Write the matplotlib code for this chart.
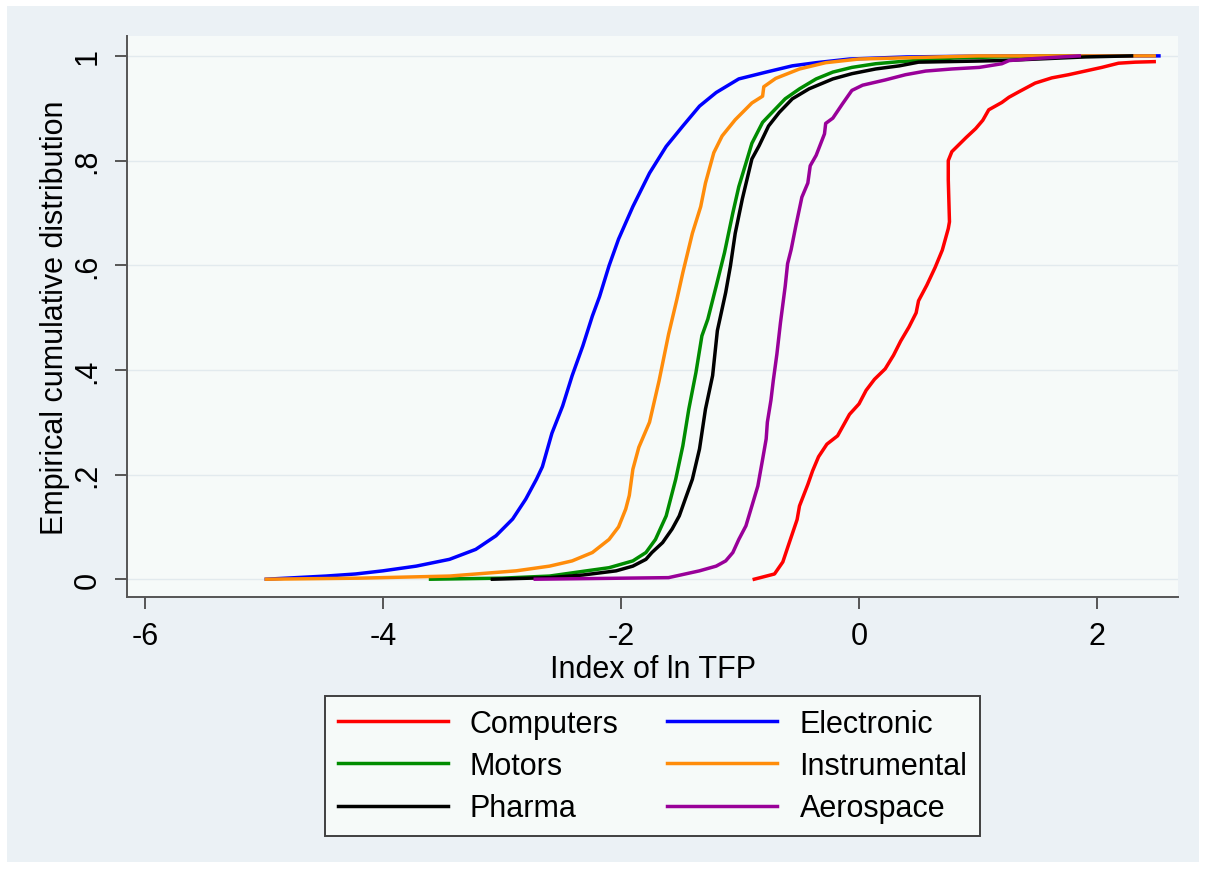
import matplotlib
matplotlib.use("Agg")
import matplotlib.pyplot as plt
from matplotlib.patches import Rectangle

plt.rcParams['font.family'] = ['Liberation Sans', 'DejaVu Sans']
plt.rcParams['axes.unicode_minus'] = False

# data: points along each empirical CDF
computers_x = [-0.88, -0.71, -0.64, -0.59, -0.52, -0.50, -0.43, -0.39, -0.34, -0.27, -0.18, -0.08, 0.00, 0.06,
               0.13, 0.22, 0.29, 0.35, 0.42, 0.48, 0.50, 0.57, 0.64, 0.70, 0.75, 0.76, 0.75, 0.75, 0.78, 0.90,
               0.98, 1.04, 1.09, 1.20, 1.26, 1.34, 1.48, 1.62, 1.76, 1.90, 2.04, 2.18, 2.32, 2.48]
computers_y = [0.0, 0.01, 0.033, 0.067, 0.114, 0.14, 0.181, 0.207, 0.234, 0.258, 0.274, 0.315, 0.335, 0.361,
               0.382, 0.402, 0.428, 0.455, 0.482, 0.509, 0.532, 0.562, 0.596, 0.629, 0.67, 0.683, 0.763, 0.80,
               0.817, 0.844, 0.861, 0.877, 0.897, 0.911, 0.921, 0.931, 0.948, 0.958, 0.964, 0.971, 0.978, 0.986,
               0.988, 0.989]

electronic_x = [-4.98, -4.48, -4.23, -4.00, -3.72, -3.44, -3.22, -3.05, -2.91, -2.80, -2.71, -2.66, -2.58,
                -2.49, -2.41, -2.32, -2.24, -2.18, -2.10, -2.02, -1.90, -1.76, -1.62, -1.48, -1.34, -1.20,
                -1.01, -0.78, -0.56, -0.36, -0.08, 0.40, 1.20, 2.52]
electronic_y = [0.0, 0.006, 0.01, 0.016, 0.025, 0.038, 0.057, 0.083, 0.115, 0.153, 0.191, 0.215, 0.279,
                0.331, 0.389, 0.446, 0.503, 0.54, 0.599, 0.65, 0.712, 0.776, 0.827, 0.866, 0.904, 0.93,
                0.956, 0.969, 0.981, 0.987, 0.994, 0.998, 1.0, 1.0]

motors_x = [-3.6, -3.0, -2.60, -2.32, -2.10, -1.90, -1.79, -1.71, -1.62, -1.54, -1.48, -1.43, -1.37, -1.32,
            -1.27, -1.20, -1.13, -1.06, -1.01, -0.95, -0.90, -0.81, -0.73, -0.62, -0.50, -0.36, -0.22, -0.06,
            0.14, 0.34, 0.8, 1.5, 1.8]
motors_y = [0.0, 0.002, 0.006, 0.015, 0.022, 0.035, 0.051, 0.076, 0.121, 0.191, 0.255, 0.325, 0.395, 0.465,
            0.497, 0.56, 0.624, 0.70, 0.75, 0.795, 0.833, 0.873, 0.892, 0.918, 0.937, 0.956, 0.969, 0.978,
            0.985, 0.989, 0.996, 1.0, 1.0]

instrumental_x = [-4.98, -4.2, -3.44, -2.88, -2.60, -2.41, -2.24, -2.10, -2.02, -1.96, -1.93, -1.90, -1.85,
                  -1.76, -1.68, -1.60, -1.53, -1.48, -1.40, -1.33, -1.29, -1.22, -1.15, -1.04, -0.90, -0.81,
                  -0.80, -0.70, -0.50, -0.28, 0.00, 0.34, 1.0, 2.48]
instrumental_y = [0.0, 0.002, 0.006, 0.016, 0.025, 0.035, 0.051, 0.076, 0.10, 0.134, 0.16, 0.21, 0.252,
                  0.30, 0.379, 0.468, 0.535, 0.586, 0.661, 0.712, 0.757, 0.815, 0.847, 0.878, 0.91, 0.923,
                  0.941, 0.957, 0.975, 0.987, 0.994, 0.996, 1.0, 1.0]

pharma_x = [-3.08, -2.60, -2.32, -2.04, -1.90, -1.79, -1.74, -1.65, -1.57, -1.51, -1.46, -1.40, -1.34, -1.29,
            -1.23, -1.19, -1.12, -1.08, -1.04, -0.98, -0.94, -0.90, -0.84, -0.76, -0.67, -0.56, -0.42, -0.22,
            -0.06, 0.14, 0.34, 0.50, 1.20, 1.90, 2.29]
pharma_y = [0.0, 0.003, 0.008, 0.016, 0.025, 0.038, 0.051, 0.07, 0.096, 0.121, 0.153, 0.191, 0.249, 0.325,
            0.389, 0.475, 0.548, 0.599, 0.661, 0.727, 0.765, 0.803, 0.828, 0.866, 0.892, 0.918, 0.937, 0.956,
            0.966, 0.975, 0.981, 0.988, 0.991, 0.998, 1.0]

aerospace_x = [-2.72, -1.60, -1.46, -1.34, -1.20, -1.12, -1.06, -1.01, -0.95, -0.90, -0.85, -0.81, -0.78,
               -0.77, -0.74, -0.72, -0.69, -0.66, -0.62, -0.60, -0.57, -0.53, -0.48, -0.43, -0.41, -0.36,
               -0.29, -0.28, -0.22, -0.14, -0.06, 0.03, 0.22, 0.39, 0.56, 0.78, 1.01, 1.20, 1.26, 1.48, 1.85]
aerospace_y = [0.0, 0.003, 0.01, 0.016, 0.025, 0.035, 0.051, 0.076, 0.102, 0.14, 0.178, 0.229, 0.268,
               0.30, 0.342, 0.38, 0.43, 0.49, 0.56, 0.603, 0.63, 0.676, 0.73, 0.757, 0.79, 0.81,
               0.851, 0.871, 0.881, 0.908, 0.934, 0.944, 0.954, 0.964, 0.971, 0.975, 0.978, 0.985, 0.991,
               0.995, 1.0]

x_ticks = [-6, -4, -2, 0, 2]
y_ticks = [0, 0.2, 0.4, 0.6, 0.8, 1]
y_tick_labels = ["0", ".2", ".4", ".6", ".8", "1"]

fig = plt.figure(figsize=(12.06, 8.70), dpi=100, facecolor="white")
# outer graph region (Stata look)
fig.patches.append(Rectangle((7 / 1206, 7 / 870), 1192 / 1206, 856 / 870, transform=fig.transFigure,
                             facecolor="#EBF1F5", edgecolor="none", zorder=-10))

ax = fig.add_axes([127 / 1206, 1 - 598 / 870, 1051 / 1206, 561 / 870])
ax.set_zorder(1)
ax.set_facecolor("#F6FAF9")

series = [
    ("Computers", computers_x, computers_y, "#FF0000"),
    ("Electronic", electronic_x, electronic_y, "#0000FF"),
    ("Motors", motors_x, motors_y, "#008C00"),
    ("Instrumental", instrumental_x, instrumental_y, "#FF8C0A"),
    ("Pharma", pharma_x, pharma_y, "#000000"),
    ("Aerospace", aerospace_x, aerospace_y, "#990099"),
]
lines = {}
for name, xs, ys, col in series:
    lines[name], = ax.plot(xs, ys, color=col, linewidth=2.5, label=name)

ax.set_xlim(-6.15, 2.68)
ax.set_ylim(-0.034, 1.038)
ax.set_xticks(x_ticks)
ax.set_yticks(y_ticks)
ax.set_yticklabels(y_tick_labels, rotation=90, va="center")
ax.grid(axis="y", color="#E2EAEE", linewidth=1)
ax.set_axisbelow(True)

for s in ["top", "right"]:
    ax.spines[s].set_visible(False)
for s in ["left", "bottom"]:
    ax.spines[s].set_color("#555555")
    ax.spines[s].set_linewidth(1.4)
ax.tick_params(axis="both", direction="out", length=8.5, width=1.4, color="#555555",
               labelsize=22, pad=9)

ax.set_xlabel("Index of ln TFP", fontsize=22, labelpad=2)
ax.set_ylabel("Empirical cumulative distribution", fontsize=22, labelpad=2)

# legend filled row-wise like Stata
order = ["Computers", "Motors", "Pharma", "Electronic", "Instrumental", "Aerospace"]
leg = fig.legend([lines[n] for n in order], order, loc="upper center",
                 bbox_to_anchor=(652.5 / 1206, 1 - 697 / 870), ncol=2, fontsize=22,
                 frameon=True, fancybox=False, framealpha=1, facecolor="#F6FAF9", edgecolor="#404040",
                 handlelength=3.6, handletextpad=0.72, columnspacing=1.6, labelspacing=0.4,
                 borderpad=0.42, borderaxespad=0)
leg.get_frame().set_linewidth(1.4)

plt.savefig("out.png", dpi=100, facecolor="white")
